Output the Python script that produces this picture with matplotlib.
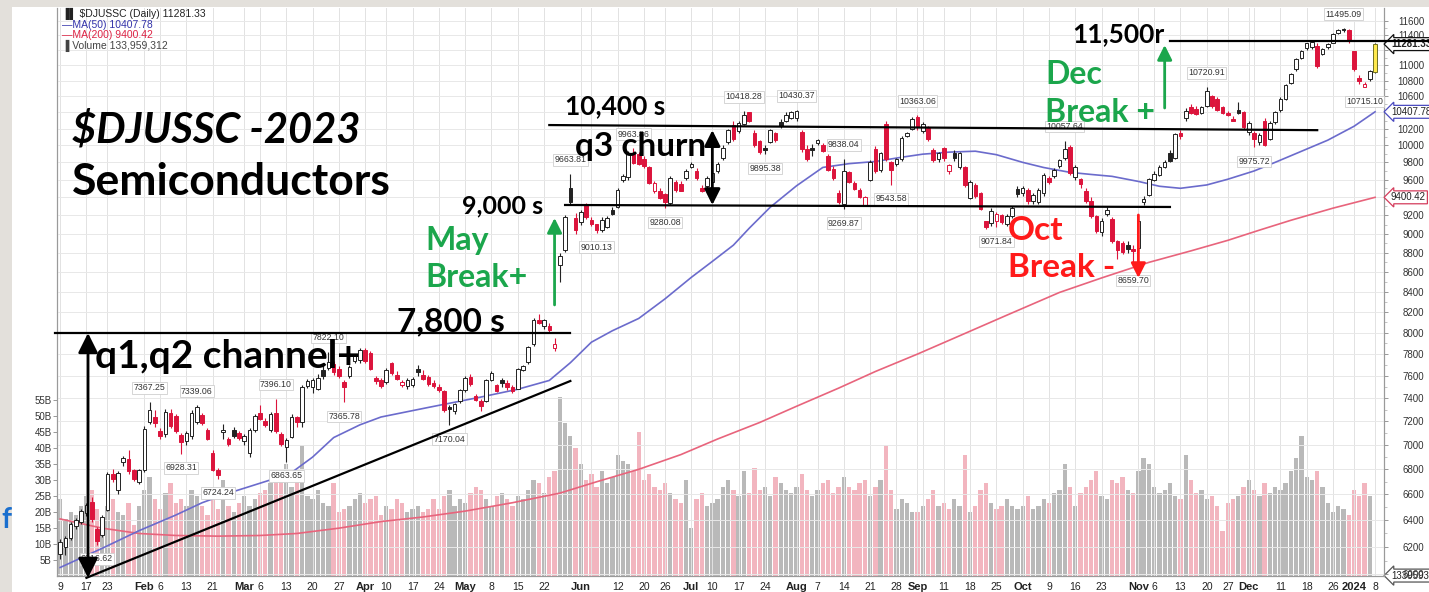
#!/usr/bin/env python
'''
$DJUSSC daily candles 2023 with annotated breakouts (slide screenshot look)
'''
import numpy as np
import pandas as pd
import matplotlib
matplotlib.use('Agg')
import matplotlib.pyplot as plt
from matplotlib.patches import Rectangle
from matplotlib.ticker import FixedLocator, NullFormatter

# Constants
W_PX = 1429
H_PX = 592
DPI = 100

# plot box in pixels of the screenshot
AX_L, AX_R, AX_T, AX_B = 57, 1384, 8, 576

SMALL = 'Liberation Sans'
BIG = 'Lato'
GREEN = '#1ba64c'
RED = '#ff1a1a'
CANDLE_RED = '#dc143c'

HOLIDAYS = ['2023-01-16', '2023-02-20', '2023-04-07', '2023-05-29', '2023-06-19',
            '2023-07-04', '2023-09-04', '2023-11-23', '2023-12-25', '2024-01-01']

# ---------------- daily OHLC ----------------
OPENS = [6150, 6200, 6270, 6360, 6390, 6460, 6540, 6330, 6290, 6480,
         6760, 6640, 6860, 6880, 6790, 6700, 6800, 7200, 7230, 7110,
         7100, 7270, 7240, 7080, 7040, 7080, 7200, 7250, 7120, 6930,
         6790, 7110, 7050, 7120, 7100, 7040, 6940, 7130, 7270, 7200,
         7130, 7270, 7090, 6990, 7070, 7230, 7200, 7510, 7500, 7490,
         7650, 7680, 7700, 7660, 7540, 7600, 7740, 7750, 7830, 7810,
         7580, 7560, 7550, 7710, 7600, 7520, 7510, 7520, 7660, 7600,
         7590, 7530, 7500, 7460, 7320, 7290, 7380, 7480, 7590, 7420,
         7370, 7380, 7570, 7510, 7560, 7530, 7500, 7490, 7660, 7730,
         7900, 8120, 8070, 8060, 7860, 8680, 8830, 9500, 9170, 9130,
         9310, 9150, 9100, 9050, 9080, 9260, 9300, 9600, 9630, 9900,
         9890, 9840, 9740, 9480, 9470, 9430, 9340, 9570, 9550, 9620,
         9750, 9700, 9500, 9530, 9580, 9700, 9850, 10050, 10240, 10180,
         10260, 10400, 10150, 10050, 9970, 10050, 10140, 10280, 10300, 10340,
         10330, 10160, 9950, 9970, 10030, 10000, 9870, 9720, 9450, 9330,
         9680, 9560, 9480, 9320, 9600, 9950, 9720, 10250, 9800, 9790,
         9840, 10120, 10200, 10340, 10180, 10210, 9940, 9840, 9960, 9700,
         9900, 9750, 9740, 9400, 9540, 9440, 9130, 9120, 9140, 9200,
         9110, 9200, 9490, 9450, 9480, 9360, 9350, 9450, 9620, 9650,
         9760, 9850, 9980, 9630, 9600, 9470, 9360, 9190, 9020, 9220,
         9160, 8920, 8900, 8880, 8840, 8850, 9350, 9430, 9600, 9660,
         9750, 9900, 9860, 10140, 10330, 10460, 10440, 10400, 10490, 10600,
         10560, 10460, 10390, 10320, 10430, 10400, 10160, 10150, 10040, 10290,
         10080, 10290, 10430, 10570, 10780, 10950, 11100, 11230, 11240, 11250,
         11160, 11250, 11300, 11440, 11480, 11470, 11180, 10830, 10730, 10820,
         10920]
HIGHS = [6260, 6280, 6390, 6420, 6490, 6530, 6580, 6350, 6440, 6780,
         6800, 6790, 6910, 6960, 6800, 6800, 7160, 7367.25, 7300, 7140,
         7310, 7310, 7260, 7100, 7120, 7300, 7339.06, 7270, 7140, 6960,
         6810, 7180, 7070, 7150, 7120, 7090, 7140, 7260, 7340, 7230,
         7280, 7396.10, 7110, 7060, 7260, 7250, 7520, 7570, 7580, 7620,
         7700, 7822.10, 7740, 7690, 7560, 7700, 7800, 7860, 7860, 7830,
         7600, 7580, 7670, 7730, 7640, 7560, 7580, 7590, 7700, 7650,
         7610, 7560, 7530, 7470, 7340, 7360, 7480, 7600, 7620, 7440,
         7390, 7570, 7640, 7530, 7580, 7560, 7520, 7670, 7700, 7880,
         8140, 8180, 8130, 8090, 7950, 8800, 9200, 9663.81, 9230, 9260,
         9340, 9180, 9110, 9180, 9190, 9290, 9500, 9660, 9930, 9963.86,
         9920, 9870, 9760, 9580, 9500, 9450, 9640, 9600, 9580, 9720,
         9800, 9740, 9540, 9640, 9690, 9800, 10000, 10200, 10300, 10290,
         10418.28, 10410, 10180, 10070, 10000, 10200, 10160, 10320, 10400, 10420,
         10430.37, 10180, 10000, 10020, 10080, 10030, 9900, 9760, 9480, 9838.04,
         9700, 9580, 9510, 9420, 9830, 9990, 9920, 10290, 9820, 9850,
         10110, 10160, 10340, 10363.06, 10280, 10230, 9970, 9920, 9980, 9780,
         9950, 9920, 9760, 9600, 9560, 9460, 9140, 9280, 9240, 9220,
         9220, 9300, 9530, 9530, 9500, 9450, 9500, 9680, 9640, 9730,
         9840, 10057.64, 10000, 9770, 9620, 9500, 9400, 9200, 9170, 9290,
         9180, 8930, 8920, 8920, 8880, 9160, 9420, 9620, 9700, 9770,
         9830, 9940, 10150, 10180, 10450, 10500, 10480, 10480, 10720.91, 10620,
         10590, 10480, 10420, 10360, 10530, 10420, 10290, 10170, 10150, 10330,
         10300, 10420, 10590, 10760, 10900, 11100, 11200, 11300, 11320, 11290,
         11230, 11300, 11430, 11490, 11495.09, 11480, 11190, 10880, 10790, 10940,
         11290]
LOWS = [6110, 6140, 6250, 6330, 6370, 6430, 6390, 6216.62, 6270, 6470,
        6700, 6600, 6830, 6760, 6710, 6680, 6780, 7180, 7150, 7050,
        7070, 7140, 7100, 6928.31, 7000, 7050, 7180, 7170, 7040, 6790,
        6724.24, 7050, 6990, 7060, 7040, 7000, 6900, 7110, 7210, 7150,
        7110, 7100, 6990, 6863.65, 7060, 7150, 7150, 7490, 7450, 7470,
        7570, 7650, 7610, 7580, 7365.78, 7580, 7720, 7720, 7720, 7650,
        7530, 7490, 7530, 7610, 7560, 7500, 7480, 7500, 7600, 7560,
        7510, 7490, 7460, 7280, 7170.04, 7260, 7360, 7460, 7510, 7380,
        7290, 7370, 7550, 7460, 7500, 7470, 7450, 7480, 7640, 7710,
        7880, 8080, 8040, 8010, 7830, 8500, 8810, 9330, 9000, 9100,
        9160, 9090, 9010.13, 9020, 9060, 9200, 9280, 9570, 9600, 9780,
        9770, 9740, 9550, 9450, 9380, 9280.08, 9320, 9460, 9470, 9600,
        9730, 9600, 9460, 9510, 9560, 9680, 9830, 10020, 10050, 10150,
        10240, 10280, 9980, 9900, 9895.38, 10030, 10040, 10210, 10280, 10320,
        10300, 9920, 9820, 9880, 10000, 9920, 9700, 9600, 9330, 9269.87,
        9560, 9480, 9390, 9300, 9580, 9680, 9690, 9820, 9543.58, 9760,
        9820, 10100, 10180, 10190, 10150, 10050, 9800, 9800, 9820, 9660,
        9820, 9720, 9520, 9380, 9390, 9260, 9050, 9090, 9071.84, 9110,
        9080, 9170, 9400, 9420, 9330, 9330, 9330, 9420, 9550, 9620,
        9740, 9830, 9650, 9600, 9500, 9340, 9170, 9010, 8980, 9190,
        8900, 8730, 8790, 8800, 8659.70, 8830, 9320, 9410, 9580, 9640,
        9730, 9800, 9840, 10080, 10300, 10380, 10370, 10380, 10470, 10450,
        10420, 10380, 10350, 10290, 10380, 10200, 10130, 9975.72, 10010, 9990,
        10060, 10260, 10410, 10550, 10760, 10930, 11080, 11200, 11220, 10960,
        11140, 11220, 11290, 11420, 11440, 11300, 10920, 10760, 10715.10, 10800,
        10900]
CLOSES = [6230, 6260, 6370, 6400, 6470, 6510, 6410, 6250, 6420, 6760,
          6730, 6770, 6890, 6790, 6730, 6790, 7130, 7290, 7190, 7080,
          7280, 7160, 7120, 7030, 7100, 7270, 7320, 7190, 7050, 6800,
          6760, 7120, 7010, 7080, 7060, 7070, 7120, 7240, 7220, 7170,
          7260, 7120, 7010, 7040, 7230, 7200, 7500, 7550, 7560, 7580,
          7600, 7720, 7640, 7600, 7500, 7680, 7790, 7830, 7740, 7670,
          7560, 7510, 7650, 7630, 7580, 7540, 7560, 7570, 7640, 7580,
          7530, 7510, 7480, 7300, 7310, 7350, 7470, 7580, 7530, 7390,
          7340, 7560, 7620, 7470, 7540, 7500, 7470, 7660, 7690, 7860,
          8120, 8100, 8120, 8030, 7890, 8760, 9180, 9350, 9050, 9230,
          9190, 9110, 9050, 9150, 9170, 9220, 9480, 9640, 9910, 9800,
          9790, 9760, 9570, 9560, 9400, 9350, 9610, 9490, 9480, 9700,
          9780, 9620, 9480, 9620, 9670, 9780, 9960, 10180, 10080, 10260,
          10370, 10300, 10010, 9930, 9950, 10180, 10070, 10240, 10370, 10400,
          10410, 9960, 9840, 9950, 10060, 9940, 9720, 9620, 9350, 9700,
          9580, 9500, 9410, 9400, 9800, 9700, 9900, 9840, 9720, 9830,
          10090, 10140, 10320, 10220, 10250, 10080, 9830, 9900, 9850, 9760,
          9860, 9900, 9540, 9570, 9420, 9280, 9080, 9250, 9210, 9130,
          9190, 9280, 9440, 9500, 9360, 9420, 9480, 9650, 9580, 9710,
          9820, 9950, 9680, 9740, 9560, 9360, 9200, 9030, 9140, 9260,
          8930, 8830, 8810, 8840, 8820, 9140, 9380, 9600, 9660, 9740,
          9800, 9820, 10130, 10120, 10410, 10400, 10390, 10460, 10660, 10480,
          10440, 10400, 10370, 10300, 10400, 10230, 10270, 10080, 10120, 10010,
          10270, 10400, 10570, 10740, 10880, 11080, 11190, 11290, 11300, 10990,
          11210, 11280, 11420, 11470, 11475, 11330, 10950, 10800, 10760, 10920,
          11281.33]
# daily volume, billions of shares
VOLUME_B = [24, 18, 20, 19, 22, 25, 27, 21, 18, 22, 24, 20, 19, 23, 16, 22,
            27, 31, 24, 21, 26, 29, 23, 24, 22, 27, 25, 22, 19, 24, 21, 30, 22, 20, 23,
            25, 22, 24, 26, 27, 29, 31, 33, 35, 28, 30, 41, 25, 24, 27, 23, 22, 29, 20, 21, 22, 24, 26,
            23, 24, 25, 19, 22, 21, 24, 23, 20, 21, 22, 20, 21, 24, 21, 25, 27, 22, 24,
            23, 26, 28, 27, 24, 22, 25, 26, 24, 22, 25, 24, 27, 30, 29, 26, 31, 33, 56, 48, 44, 40,
            35, 30, 32, 28, 33, 29, 31, 38, 36, 35, 33, 45, 30, 32, 28, 27, 29, 26, 24, 23, 30,
            15, 24, 26, 22, 23, 24, 28, 30, 27, 25, 33, 26, 34, 27, 28, 25, 31, 29, 27, 26,
            28, 32, 27, 25, 27, 29, 30, 26, 28, 31, 28, 27, 29, 30, 25, 28, 30, 41, 27, 21, 24, 23, 20,
            20, 22, 24, 27, 22, 23, 21, 24, 22, 38, 20, 22, 27, 29, 23, 21, 22, 24, 22, 21,
            22, 25, 21, 22, 24, 23, 26, 27, 35, 28, 22, 26, 28, 30, 33, 25, 24, 30, 29, 31, 27, 26,
            33, 37, 35, 28, 26, 27, 29, 25, 24, 38, 30, 26, 27, 24, 25, 22, 14, 23, 24, 25, 28,
            30, 27, 25, 29, 26, 28, 27, 29, 33, 37, 44, 31, 30, 33, 28, 23, 20, 22, 21, 19,
            27, 25, 29, 25, 0.134]

# moving averages sampled from the drawn curves
MA50_DATES = ['2023-01-09', '2023-01-20', '2023-01-31', '2023-02-09', '2023-02-16', '2023-02-24',
              '2023-03-02', '2023-03-08', '2023-03-14', '2023-03-20', '2023-03-24', '2023-03-31',
              '2023-04-06', '2023-04-20', '2023-05-04', '2023-05-15', '2023-05-23', '2023-05-30',
              '2023-06-05', '2023-06-09', '2023-06-16', '2023-06-26', '2023-07-03', '2023-07-10',
              '2023-07-14', '2023-07-19', '2023-07-25', '2023-08-01', '2023-08-08', '2023-08-15',
              '2023-08-22', '2023-08-29', '2023-09-05', '2023-09-12', '2023-09-19', '2023-09-25',
              '2023-10-02', '2023-10-06', '2023-10-13', '2023-10-19', '2023-10-25', '2023-11-01',
              '2023-11-07', '2023-11-13', '2023-11-20', '2023-11-27', '2023-12-04', '2023-12-08',
              '2023-12-15', '2023-12-22', '2024-01-02', '2024-01-08']
MA50_VALUES = [6050, 6190, 6321, 6440, 6535, 6610, 6662, 6715, 6774, 6900, 7062, 7170,
               7237, 7320, 7411, 7480, 7559, 7720, 7911, 8020, 8138, 8330, 8546, 8710,
               8880, 9060, 9290, 9530, 9741, 9785, 9810, 9860, 9896, 9920, 9931, 9890,
               9800, 9740, 9684, 9660, 9638, 9580, 9525, 9502, 9540, 9605, 9700, 9800,
               9930, 10062, 10230, 10407.78]
MA200_DATES = ['2023-01-09', '2023-01-20', '2023-01-31', '2023-02-09', '2023-02-22', '2023-03-06',
               '2023-03-15', '2023-03-27', '2023-04-06', '2023-04-19', '2023-05-01', '2023-05-12',
               '2023-05-25', '2023-06-06', '2023-06-16', '2023-06-29', '2023-07-11', '2023-07-21',
               '2023-08-01', '2023-08-11', '2023-08-22', '2023-09-01', '2023-09-13', '2023-09-27',
               '2023-10-11', '2023-10-23', '2023-11-03', '2023-11-15', '2023-11-27', '2023-12-05',
               '2023-12-13', '2023-12-26', '2024-01-08']
MA200_VALUES = [6410, 6340, 6300, 6285, 6280, 6285, 6300, 6340, 6390, 6425, 6470, 6535,
                6610, 6700, 6800, 6920, 7050, 7190, 7330, 7490, 7640, 7800, 7950, 8170,
                8394, 8540, 8700, 8820, 8931, 9040, 9147, 9280, 9400.42]

# labelled swing highs / lows
SWING_DATES = ['2023-01-19', '2023-02-02', '2023-02-10', '2023-02-15', '2023-02-22', '2023-03-09',
               '2023-03-13', '2023-03-23', '2023-03-28', '2023-04-26', '2023-05-30', '2023-06-06',
               '2023-06-15', '2023-06-26', '2023-07-18', '2023-07-24', '2023-08-01', '2023-08-14',
               '2023-08-14', '2023-08-25', '2023-09-01', '2023-09-25', '2023-10-12', '2023-10-31',
               '2023-11-20', '2023-12-04', '2023-12-28', '2024-01-04']
SWING_VALUES = [6216.62, 7367.25, 6928.31, 7339.06, 6724.24, 7396.10, 6863.65, 7822.10, 7365.78,
                7170.04, 9663.81, 9010.13, 9963.86, 9280.08, 10418.28, 9895.38, 10430.37, 9838.04,
                9269.87, 9543.58, 10363.06, 9071.84, 10057.64, 8659.70, 10720.91, 9975.72,
                11495.09, 10715.10]
SWING_ABOVE = [False, True, False, True, False, True, False, True, False, False, True, False,
               True, False, True, False, True, True, False, False, True, False, True, False,
               True, False, True, False]

# x axis labels
TICK_DATES = ['2023-01-09', '2023-01-17', '2023-01-23', '2023-02-01', '2023-02-06', '2023-02-13',
              '2023-02-21', '2023-03-01', '2023-03-06', '2023-03-13', '2023-03-20', '2023-03-27',
              '2023-04-03', '2023-04-10', '2023-04-17', '2023-04-24', '2023-05-01', '2023-05-08',
              '2023-05-15', '2023-05-22', '2023-06-01', '2023-06-05', '2023-06-12', '2023-06-20',
              '2023-06-26', '2023-07-03', '2023-07-10', '2023-07-17', '2023-07-24', '2023-08-01',
              '2023-08-07', '2023-08-14', '2023-08-21', '2023-08-28', '2023-09-01', '2023-09-05',
              '2023-09-11', '2023-09-18', '2023-09-25', '2023-10-02', '2023-10-09', '2023-10-16',
              '2023-10-23', '2023-11-01', '2023-11-06', '2023-11-13', '2023-11-20', '2023-11-27',
              '2023-12-01', '2023-12-04', '2023-12-11', '2023-12-18', '2023-12-26', '2024-01-02',
              '2024-01-08']
TICK_TEXT = ['9', '17', '23', 'Feb', '6', '13', '21', 'Mar', '6', '13', '20', '27', 'Apr', '10',
             '17', '24', 'May', '8', '15', '22', 'Jun', '', '12', '20', '26', 'Jul', '10', '17',
             '24', 'Aug', '7', '14', '21', '28', 'Sep', '', '11', '18', '25', 'Oct', '9', '16',
             '23', 'Nov', '6', '13', '20', '27', 'Dec', '', '11', '18', '26', '2024', '8']

PRICE_TICKS = list(range(6000, 11601, 200))
HIDDEN_PRICE_LABELS = [11200, 10400, 9400]   # sit under the value tags
VOLUME_TICKS = [5, 10, 15, 20, 25, 30, 35, 40, 45, 50, 55]

# hand drawn support / resistance lines: (date0, price0, date1, price1)
SR_LINES = [('2023-01-06', 7998, '2023-05-30', 7998),
            ('2023-01-17', 5976, '2023-05-30', 7554),
            ('2023-05-23', 10245, '2023-12-20', 10183),
            ('2023-05-26', 9315, '2023-11-09', 9293),
            ('2023-11-09', 11323, '2024-01-30', 11323)]


def fx(px):
    return px / W_PX


def fy(py):
    return 1 - py / H_PX


def trading_days():
    days = pd.bdate_range('2023-01-09', '2024-01-08')
    return days[~days.isin(pd.to_datetime(HOLIDAYS))]


def main():
    days = trading_days()
    pos = {d.strftime('%Y-%m-%d'): i for i, d in enumerate(days)}

    def xi(d):
        # trading-day index, allowing dates outside the range
        if d in pos:
            return pos[d]
        t = pd.Timestamp(d)
        if t < days[0]:
            return -np.busday_count(t.date(), days[0].date())
        return len(days) - 1 + np.busday_count(days[-1].date(), t.date())

    n = len(days)
    idx = np.arange(n)
    o = np.array(OPENS, float)
    h = np.array(HIGHS, float)
    l = np.array(LOWS, float)
    c = np.array(CLOSES, float)
    vol = np.array(VOLUME_B, float)
    prev = np.concatenate([[o[0]], c[:-1]])
    down = c < prev

    fig = plt.figure(figsize=(W_PX / DPI, H_PX / DPI), dpi=DPI)
    fig.patch.set_facecolor('white')
    # slide frame around the screenshot
    fig.patches.append(Rectangle((0, 0), fx(12), 1, transform=fig.transFigure,
                                 fc='#e3e0db', ec='none', zorder=0))
    fig.patches.append(Rectangle((0, fy(7)), 1, 7 / H_PX, transform=fig.transFigure,
                                 fc='#e3e0db', ec='none', zorder=0))
    fig.text(fx(1), fy(520), 'f', color='#1a6fce', fontsize=20, fontweight='bold',
             family=BIG, va='center', ha='left')

    rect = [fx(AX_L), fy(AX_B), (AX_R - AX_L) / W_PX, (AX_B - AX_T) / H_PX]
    ax = fig.add_axes(rect)
    vax = ax.twinx()
    vax.set_zorder(ax.get_zorder() - 1)
    ax.patch.set_visible(False)

    # ----- volume -----
    vcol = np.where(down, '#f2b5bf', '#b9b9b9')
    vax.bar(idx, vol, width=0.82, color=vcol, linewidth=0, zorder=1)
    vax.set_ylim(0, 178)
    vax.yaxis.tick_left()
    vax.set_yticks(VOLUME_TICKS)
    vax.set_yticklabels(['%dB' % v for v in VOLUME_TICKS], fontsize=7, family=SMALL, color='#333333')
    vax.tick_params(axis='y', length=3, width=0.6, color='#888888', pad=1)

    # ----- price -----
    ax.set_yscale('log')
    ax.set_ylim(5989, 11777)
    ax.set_xlim(-0.6, 251.7)
    ax.yaxis.tick_right()
    ax.set_yticks(PRICE_TICKS)
    ax.set_yticklabels(['' if p in HIDDEN_PRICE_LABELS else str(p) for p in PRICE_TICKS],
                       fontsize=7, family=SMALL, color='#333333')
    ax.yaxis.set_minor_locator(FixedLocator(range(6000, 11700, 100)))
    ax.yaxis.set_minor_formatter(NullFormatter())
    ax.tick_params(axis='y', which='major', length=3, width=0.6, color='#888888', pad=26)
    ax.tick_params(axis='y', which='minor', length=2, width=0.5, color='#aaaaaa')
    for t in ax.get_yticklabels():
        t.set_horizontalalignment('right')

    tick_x = [xi(d) for d in TICK_DATES]
    ax.set_xticks(tick_x)
    ax.set_xticklabels(TICK_TEXT, fontsize=7.5, family=SMALL, color='#222222')
    for t, s in zip(ax.get_xticklabels(), TICK_TEXT):
        if len(s) > 2:
            t.set_fontweight('bold')
            t.set_fontsize(8)
    ax.tick_params(axis='x', length=0, pad=4)
    vax.tick_params(axis='x', length=0)

    # grid
    for gx in tick_x:
        ax.axvline(gx, color='#e2e2e2', lw=0.7, zorder=0)
    for gp in PRICE_TICKS:
        ax.axhline(gp, color='#e8e8e8', lw=0.7, zorder=0)
    for sp in list(ax.spines.values()) + list(vax.spines.values()):
        sp.set_color('#9a9a9a')
        sp.set_linewidth(0.8)
    vax.spines['top'].set_visible(False)
    ax.spines['top'].set_visible(False)

    # moving averages
    ax.plot([xi(d) for d in MA200_DATES], MA200_VALUES, color='#e8647c', lw=1.2, zorder=2)
    ax.plot([xi(d) for d in MA50_DATES], MA50_VALUES, color='#6b6bcc', lw=1.2, zorder=2)

    # candles
    ccol = np.where(down, CANDLE_RED, '#222222')
    ax.vlines(idx, l, h, colors=ccol, lw=0.8, zorder=3)
    face = [cc if cl < op else 'white' for cc, cl, op in zip(ccol, c, o)]
    face[-1] = '#ffe94d'
    edge = list(ccol)
    edge[-1] = '#6f6f20'
    ax.bar(idx, np.abs(c - o) + 8, bottom=np.minimum(o, c) - 4, width=0.68,
           color=face, edgecolor=edge, linewidth=0.7, zorder=4)

    # swing labels
    for d, v, up in zip(SWING_DATES, SWING_VALUES, SWING_ABOVE):
        ax.annotate('%.2f' % v, xy=(xi(d), v), xytext=(0, 7 if up else -7),
                    textcoords='offset points', ha='center', va='bottom' if up else 'top',
                    fontsize=6.3, family=SMALL, color='#333333', zorder=5,
                    bbox=dict(boxstyle='square,pad=0.15', fc='white', ec='#cfcfcf', lw=0.6))

    # right axis value tags
    tags = [(ax, 11281.33, '11281.33', '#111111'), (ax, 10407.78, '10407.78', '#4a4ac0'),
            (ax, 9400.42, '9400.42', '#d43c5c'), (vax, 0.134, '133959312', '#555555')]
    for a, v, s, col in tags:
        a.annotate(s, xy=(1, v), xycoords=('axes fraction', 'data'), xytext=(5, 0),
                   textcoords='offset points', ha='left', va='center', fontsize=7,
                   family=SMALL, color='#222222', annotation_clip=False, zorder=6,
                   fontweight='bold' if col == '#111111' else 'normal',
                   bbox=dict(boxstyle='larrow,pad=0.15', fc='white', ec=col, lw=0.9))

    # support / resistance lines
    for d0, p0, d1, p1 in SR_LINES:
        ax.plot([xi(d0), xi(d1)], [p0, p1], color='black', lw=1.6, zorder=6, clip_on=False)
    ax.set_xlim(-0.6, 251.7)

    # arrows
    arr = [('2023-01-17', 7998, 5976, '<|-|>', 'black', 30),
           ('2023-07-10', 10183, 9315, '<|-|>', 'black', 24),
           ('2023-05-24', 8270, 9172, '-|>', GREEN, 22),
           ('2023-11-08', 10455, 11269, '-|>', GREEN, 22),
           ('2023-11-01', 9205, 8540, '-|>', RED, 22)]
    for d, p0, p1, style, col, ms in arr:
        x = xi(d) + (0.3 if d == '2023-01-17' else 0)
        ax.annotate('', xy=(x, p1), xytext=(x, p0),
                    arrowprops=dict(arrowstyle=style, color=col, lw=2, mutation_scale=ms,
                                    shrinkA=0, shrinkB=0),
                    annotation_clip=False, zorder=7)

    # legend block
    fig.text(fx(62), fy(14), '\u2590\u258c $DJUSSC (Daily) 11281.33', fontsize=7.5, family=SMALL,
             color='#222222', va='center')
    fig.text(fx(62), fy(25), '\u2014MA(50) 10407.78', fontsize=7.5, family=SMALL,
             color='#3333aa', va='center')
    fig.text(fx(62), fy(35.5), '\u2014MA(200) 9400.42', fontsize=7.5, family=SMALL,
             color='#dd2244', va='center')
    fig.text(fx(62), fy(46), '\u2590 Volume 133,959,312', fontsize=7.5, family=SMALL,
             color='#444444', va='center')

    # big annotations
    big = [(72, 130, '$DJUSSC -2023', 'black', 30, 'italic'),
           (72, 182, 'Semiconductors', 'black', 32, 'normal'),
           (95, 357, 'q1,q2 channel+', 'black', 28, 'normal'),
           (397, 322, '7,800 s', 'black', 24, 'normal'),
           (425, 241, 'May', GREEN, 23, 'normal'),
           (425, 278, 'Break+', GREEN, 23, 'normal'),
           (462, 206, '9,000 s', 'black', 18, 'normal'),
           (565, 106, '10,400 s', 'black', 19, 'normal'),
           (575, 147, 'q3 churn', 'black', 24, 'normal'),
           (1008, 231, 'Oct', RED, 24, 'normal'),
           (1008, 268, 'Break -', RED, 24, 'normal'),
           (1045, 74, 'Dec', GREEN, 23, 'normal'),
           (1045, 112, 'Break +', GREEN, 23, 'normal'),
           (1072, 34, '11,500r', 'black', 19, 'normal')]
    for px, py, s, col, size, style in big:
        fig.text(fx(px), fy(py), s, color=col, fontsize=size, fontweight='bold',
                 fontstyle=style, family=BIG, va='center', ha='left', zorder=8)

    fig.savefig('out.png', dpi=DPI)
    plt.close('all')


if __name__ == '__main__':
    main()
